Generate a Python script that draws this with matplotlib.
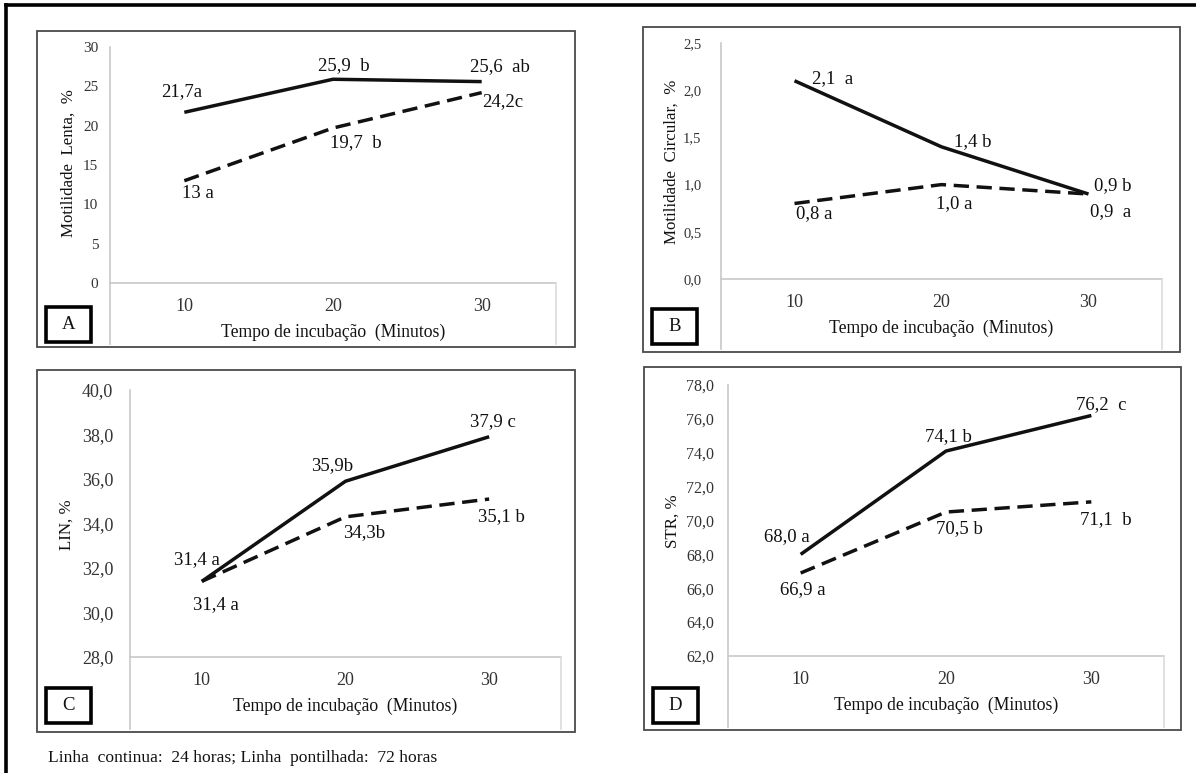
import matplotlib
matplotlib.use("Agg")
import matplotlib.pyplot as plt
from matplotlib.patches import Rectangle
from matplotlib.lines import Line2D

plt.rcParams['font.family'] = ['Liberation Serif', 'DejaVu Serif']

# ---------------- data ----------------
tempos = ['10', '20', '30']

lenta_24h = [21.7, 25.9, 25.6]
lenta_72h = [13.0, 19.7, 24.2]
lenta_24h_let = ['a', '  b', '  ab']
lenta_72h_let = [' a', '  b', 'c']

circ_24h = [2.1, 1.4, 0.9]
circ_72h = [0.8, 1.0, 0.9]
circ_24h_let = ['  a', ' b', ' b']
circ_72h_let = [' a', ' a', '  a']

lin_24h = [31.4, 35.9, 37.9]
lin_72h = [31.4, 34.3, 35.1]
lin_24h_let = [' a', 'b', ' c']
lin_72h_let = [' a', 'b', ' b']

str_24h = [68.0, 74.1, 76.2]
str_72h = [66.9, 70.5, 71.1]
str_24h_let = [' a', ' b', '  c']
str_72h_let = [' a', ' b', '  b']

yticks_a = [0, 5, 10, 15, 20, 25, 30]
yticks_b = [0.0, 0.5, 1.0, 1.5, 2.0, 2.5]
yticks_c = [28.0, 30.0, 32.0, 34.0, 36.0, 38.0, 40.0]
yticks_d = [62.0, 64.0, 66.0, 68.0, 70.0, 72.0, 74.0, 76.0, 78.0]

x_title = 'Tempo de incubação  (Minutos)'
caption = 'Linha  continua:  24 horas; Linha  pontilhada:  72 horas'

# ---------------- figure ----------------
W, H = 1196, 773
fig = plt.figure(figsize=(W / 100, H / 100), dpi=100)
fig.patch.set_facecolor('white')

INK = '#111111'
TICK = '#333333'
AXIS = '#c8c8c8'


def fx(px):
    return px / W


def fy(py):
    return 1 - py / H


def fmt(v, decimals=1, strip_zero=False):
    s = f"{v:.{decimals}f}"
    if strip_zero and s.endswith('.0'):
        s = s[:-2]
    return s.replace('.', ',')


def panel(box, plot, yticks, ydec, ylabel, ylab_xy, letter, letter_top, s24, s72,
          l24, l72, off24, off72, tick_fs, tick_pad, strip_zero=False):
    # outer frame of the panel
    bx0, by0, bx1, by1 = box
    fig.add_artist(Rectangle((fx(bx0), fy(by1)), fx(bx1 - bx0), (by1 - by0) / H,
                             transform=fig.transFigure, fill=False,
                             edgecolor='#4a4a4a', linewidth=1.3))
    left, right, top, bottom = plot
    ax = fig.add_axes([fx(left), fy(bottom), fx(right - left), (bottom - top) / H])
    ax.set_facecolor('none')
    x = list(range(len(tempos)))
    ax.plot(x, s24, color=INK, lw=2.5, solid_capstyle='butt', zorder=3)
    ax.plot(x, s72, color=INK, lw=2.5, dashes=(4.4, 2.2), zorder=3)
    ax.set_xlim(-0.5, len(tempos) - 0.5)
    ax.set_ylim(yticks[0], yticks[-1])
    ax.set_xticks(x)
    ax.set_xticklabels(tempos, fontsize=13, color=TICK)
    ax.set_yticks(yticks)
    ax.set_yticklabels([fmt(t, ydec, strip_zero) for t in yticks],
                       fontsize=tick_fs, color=TICK)
    ax.tick_params(axis='both', length=0)
    ax.tick_params(axis='x', pad=10.5)
    ax.tick_params(axis='y', pad=tick_pad)
    for side in ('top', 'right', 'left', 'bottom'):
        ax.spines[side].set_visible(False)
    # axis lines: horizontal at the base, vertical extending to the frame bottom
    fig.add_artist(Line2D([fx(left), fx(right)], [fy(bottom), fy(bottom)],
                          transform=fig.transFigure, color=AXIS, lw=1.2))
    fig.add_artist(Line2D([fx(left), fx(left)], [fy(top), fy(by1 - 3)],
                          transform=fig.transFigure, color=AXIS, lw=1.2))
    fig.add_artist(Line2D([fx(right), fx(right)], [fy(bottom), fy(by1 - 3)],
                          transform=fig.transFigure, color='#dcdcdc', lw=1.2))
    # value labels
    for i, (v, t, (dx, dy)) in enumerate(zip(s24, l24, off24)):
        ax.annotate(fmt(v, 1, strip_zero) + t, xy=(i, v), xytext=(dx, -dy),
                    textcoords='offset pixels', ha='center', va='center',
                    fontsize=13.5, color=INK, annotation_clip=False)
    for i, (v, t, (dx, dy)) in enumerate(zip(s72, l72, off72)):
        ax.annotate(fmt(v, 1, strip_zero) + t, xy=(i, v), xytext=(dx, -dy),
                    textcoords='offset pixels', ha='center', va='center',
                    fontsize=13.5, color=INK, annotation_clip=False)
    # axis titles
    fig.text(fx(ylab_xy[0]), fy(ylab_xy[1]), ylabel, rotation=90, ha='center',
             va='center', fontsize=12.2, color=INK)
    fig.text(fx((left + right) / 2), fy(bottom + 49), x_title, ha='center',
             va='center', fontsize=12.7, color=INK)
    # panel letter
    lx0, ly0 = bx0 + 9, letter_top
    fig.add_artist(Rectangle((fx(lx0), fy(ly0 + 35)), fx(45), 35 / H,
                             transform=fig.transFigure, fill=False,
                             edgecolor='black', linewidth=2.6))
    fig.text(fx(lx0 + 22.5), fy(ly0 + 17.5), letter, ha='center', va='center',
             fontsize=13.5, color=INK)
    return ax


panel(box=(37, 31, 575, 347), plot=(110, 556, 47, 283), yticks=yticks_a, ydec=0,
      ylabel='Motilidade  Lenta,  %', ylab_xy=(69, 163), letter='A', letter_top=307,
      s24=lenta_24h, s72=lenta_72h, l24=lenta_24h_let, l72=lenta_72h_let,
      off24=[(-3, -21), (11, -14), (18, -15)], off72=[(14, 13), (23, 15), (21, 9)],
      tick_fs=11, tick_pad=8.5, strip_zero=True)

panel(box=(643, 27, 1180, 352), plot=(721, 1162, 43, 279), yticks=yticks_b, ydec=1,
      ylabel='Motilidade  Circular,  %', ylab_xy=(672, 162), letter='B', letter_top=309,
      s24=circ_24h, s72=circ_72h, l24=circ_24h_let, l72=circ_72h_let,
      off24=[(38, -2), (31, -5), (24, -8)], off72=[(20, 10), (13, 19), (22, 18)],
      tick_fs=10.5, tick_pad=14)

panel(box=(37, 370, 575, 732), plot=(130, 561, 390, 657), yticks=yticks_c, ydec=1,
      ylabel='LIN, %', ylab_xy=(67, 525), letter='C', letter_top=688,
      s24=lin_24h, s72=lin_72h, l24=lin_24h_let, l72=lin_72h_let,
      off24=[(-5, -22), (-13, -16), (4, -15)], off72=[(14, 23), (19, 16), (12, 18)],
      tick_fs=13, tick_pad=12)

panel(box=(644, 367, 1181, 730), plot=(728, 1164, 385, 656), yticks=yticks_d, ydec=1,
      ylabel='STR, %', ylab_xy=(673, 521), letter='D', letter_top=688,
      s24=str_24h, s72=str_72h, l24=str_24h_let, l72=str_72h_let,
      off24=[(-14, -18), (2, -14), (10, -11)], off72=[(2, 17), (13, 17), (14, 18)],
      tick_fs=11.5, tick_pad=10)

# outer frame (top and left edges)
fig.add_artist(Line2D([fx(6), fx(W)], [fy(5), fy(5)], transform=fig.transFigure,
                      color='black', lw=2.6))
fig.add_artist(Line2D([fx(6), fx(6)], [fy(5), fy(H)], transform=fig.transFigure,
                      color='black', lw=2.6))

fig.text(fx(48), fy(758), caption, ha='left', va='center', fontsize=12.6, color=INK)

fig.savefig('out.png', dpi=100, facecolor='white')
